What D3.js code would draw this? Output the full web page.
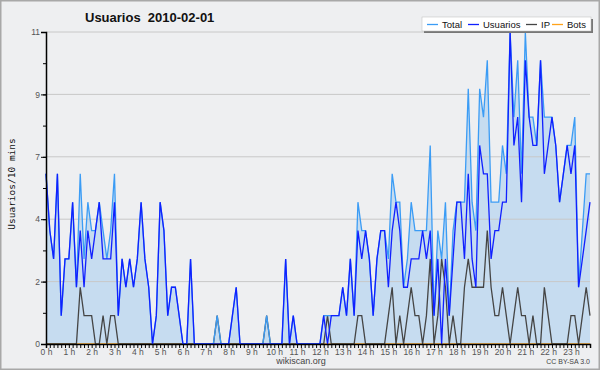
<!DOCTYPE html>
<html>
<head>
<meta charset="utf-8">
<script src="https://cdn.jsdelivr.net/npm/d3@7"></script>
<style>
  body { margin: 0; background: #eeeff1; }
  svg { display: block; }
</style>
</head>
<body>
<div id="chart"></div>
<script>
// one value per 10 minutes, 144 slots
var total = [
  6,4,3,6,1,3, 3,5,2,6,3,5, 4,4,5,4,3,4, 6,1,3,2,3,2,
  3,5,3,2,0,1, 5,4,1,2,2,1, 0,0,3,0,0,0, 0,0,0,1,0,0,
  0,1,2,0,0,0, 0,0,0,0,1,0, 0,0,0,3,0,1, 0,0,0,0,0,0,
  0,1,1,1,1,1, 2,1,3,1,5,4, 4,3,1,3,4,4, 3,6,5,5,2,3,
  5,4,4,4,4,7, 1,4,3,5,1,4, 5,5,5,9,5,4, 9,8,10,5,5,5,
  7,6,11,8,10,6, 11,8,8,7,10,8, 8,8,7,5,6,7, 7,8,2,4,6,6
];
var usuarios = [
  6,4,3,6,1,3, 3,5,2,4,2,4, 3,4,5,3,3,3, 5,1,3,2,3,2,
  3,5,3,2,0,1, 5,4,1,2,2,1, 0,0,3,0,0,0, 0,0,0,0,0,0,
  0,1,2,0,0,0, 0,0,0,0,0,0, 0,0,0,3,0,1, 0,0,0,0,0,0,
  0,1,0,1,1,1, 2,1,3,1,4,3, 4,3,1,3,4,4, 2,4,5,4,2,2,
  3,3,3,4,3,4, 1,3,0,3,1,3, 5,5,3,6,3,2, 7,6,6,3,4,4,
  5,5,11,7,8,5, 10,8,7,7,10,6, 7,8,7,5,6,7, 6,7,2,3,4,5
];
var ip = [
  0,0,0,0,0,0, 0,0,0,2,1,1, 1,0,0,1,0,1, 1,0,0,0,0,0,
  0,0,0,0,0,0, 0,0,0,0,0,0, 0,0,0,0,0,0, 0,0,0,1,0,0,
  0,0,0,0,0,0, 0,0,0,0,1,0, 0,0,0,0,0,0, 0,0,0,0,0,0,
  0,0,1,0,0,0, 0,0,0,0,1,1, 0,0,0,0,0,0, 1,2,0,1,0,1,
  2,1,1,0,1,3, 0,1,3,2,0,1, 0,0,2,3,2,2, 2,2,4,2,1,1,
  2,1,0,1,2,1, 1,0,1,0,0,2, 1,0,0,0,0,0, 1,1,0,1,2,1
];
var bots = [
  0,0,0,0,0,0, 0,0,0,0,0,0, 0,0,0,0,0,0, 0,0,0,0,0,0,
  0,0,0,0,0,0, 0,0,0,0,0,0, 0,0,0,0,0,0, 0,0,0,0,0,0,
  0,0,0,0,0,0, 0,0,0,0,0,0, 0,0,0,0,0,0, 0,0,0,0,0,0,
  0,0,0,0,0,0, 0,0,0,0,0,0, 0,0,0,0,0,0, 0,0,0,0,0,0,
  0,0,0,0,0,0, 0,0,0,0,0,0, 0,0,0,0,0,0, 0,0,0,0,0,0,
  0,0,0,0,0,0, 0,0,0,0,0,0, 0,0,0,0,0,0, 0,0,0,0,0,0
];
var hourLabels = ["0 h","1 h","2 h","3 h","4 h","5 h","6 h","7 h","8 h","9 h","10 h","11 h",
  "12 h","13 h","14 h","15 h","16 h","17 h","18 h","19 h","20 h","21 h","22 h","23 h"];
var yTickLabels = ["0","2","4","7","9","11"];
var yMax = 11;
var legendNames = ["Total","Usuarios","IP","Bots"];

const width = 600;
const height = 370;
const plotLeft = 46, plotRight = 590, plotTop = 32, plotBottom = 344;

const colors = { total: "#3b9cf5", usuarios: "#1020ff", ip: "#454545", bots: "#ffa31a" };
const sans = '"Liberation Sans", Arial, sans-serif';

const x = d3.scaleLinear().domain([0, total.length - 1]).range([plotLeft, plotRight]);
const y = d3.scaleLinear().domain([0, yMax]).range([plotBottom, plotTop]);

let svg = d3.select('#chart')
  .append('svg')
    .attr('width', width)
    .attr('height', height)
    .style('font-family', sans);

// frame
svg.append('rect')
  .attr('x', 0.5).attr('y', 0.5)
  .attr('width', width - 1).attr('height', height - 1)
  .attr('fill', '#eeeff1')
  .attr('stroke', '#a8a8a8')
  .attr('stroke-width', 2);

// title
svg.append('text')
  .attr('x', 85)
  .attr('y', 22)
  .attr('font-size', 13)
  .attr('font-weight', 'bold')
  .attr('fill', '#111')
  .attr('xml:space', 'preserve')
  .text('Usuarios  2010-02-01');

// area under total
svg.append('path')
  .datum(total)
  .attr('fill', '#c6dcf0')
  .attr('d', d3.area()
    .x((d, i) => x(i))
    .y0(y(0))
    .y1(d => y(d)));

// grid
const majorTicks = yTickLabels.map((t, i) => i * yMax / (yTickLabels.length - 1));
const minorTicks = d3.range(0, 11).map(i => i * yMax / 10);
svg.append('g')
  .selectAll('line')
  .data(majorTicks.slice(1))
  .enter()
  .append('line')
    .attr('x1', plotLeft).attr('x2', plotRight)
    .attr('y1', d => y(d)).attr('y2', d => y(d))
    .attr('stroke', '#c8c8c8')
    .attr('stroke-width', 1);

// series lines
function drawLine(data, color) {
  svg.append('path')
    .datum(data)
    .attr('fill', 'none')
    .attr('stroke', color)
    .attr('stroke-width', 1.3)
    .attr('d', d3.line()
      .x((d, i) => x(i))
      .y(d => y(d)));
}
drawLine(bots, colors.bots);
drawLine(ip, colors.ip);
drawLine(total, colors.total);
drawLine(usuarios, colors.usuarios);

// y axis
let yMinor = svg.append('g')
  .attr('transform', `translate(${plotLeft},0)`)
  .call(d3.axisLeft(y).tickValues(minorTicks).tickSize(3).tickFormat(''));
let yAxis = svg.append('g')
  .attr('transform', `translate(${plotLeft},0)`)
  .call(d3.axisLeft(y).tickValues(majorTicks).tickSize(5)
    .tickFormat((d, i) => yTickLabels[i]));
yAxis.selectAll('text').attr('font-family', sans).attr('font-size', 8.5).attr('fill', '#555').attr('x', -6).attr('dy', '0.32em');
yAxis.select('.domain').attr('stroke', '#000').attr('stroke-width', 1.5);
yMinor.select('.domain').remove();

// x axis
let xAxis = svg.append('g')
  .attr('transform', `translate(0,${plotBottom})`)
  .call(d3.axisBottom(x).tickValues(d3.range(total.length)).tickSize(4).tickPadding(1)
    .tickFormat(i => i % 6 === 0 ? hourLabels[i / 6] : ''));
xAxis.selectAll('text').attr('font-family', sans).attr('font-size', 8.5).attr('fill', '#555');
xAxis.select('.domain').attr('stroke', '#000').attr('stroke-width', 1.5);

// y label
svg.append('text')
  .attr('transform', 'rotate(-90)')
  .attr('x', -184)
  .attr('y', 15)
  .attr('text-anchor', 'middle')
  .attr('font-family', '"DejaVu Sans Mono", monospace')
  .attr('font-size', 9.5)
  .attr('fill', '#111')
  .text('Usuarios/10 mins');

// footer
svg.append('text')
  .attr('x', 301).attr('y', 364)
  .attr('text-anchor', 'middle')
  .attr('font-size', 9)
  .attr('fill', '#444')
  .text('wikiscan.org');
svg.append('text')
  .attr('x', 590).attr('y', 364)
  .attr('text-anchor', 'end')
  .attr('font-size', 7)
  .attr('fill', '#444')
  .text('CC BY-SA 3.0');

// legend
let legend = svg.append('g');
legend.append('rect')
  .attr('x', 424).attr('y', 19).attr('width', 169).attr('height', 14)
  .attr('fill', '#777');
legend.append('rect')
  .attr('x', 422).attr('y', 17).attr('width', 169).attr('height', 14)
  .attr('fill', '#fff')
  .attr('stroke', '#bbb')
  .attr('stroke-width', 0.5);
const legendColors = [colors.total, colors.usuarios, colors.ip, colors.bots];
const legendX = [427, 468, 526, 552];
legendNames.forEach((name, i) => {
  legend.append('line')
    .attr('x1', legendX[i]).attr('x2', legendX[i] + 11)
    .attr('y1', 24.5).attr('y2', 24.5)
    .attr('stroke', legendColors[i])
    .attr('stroke-width', 1.3);
  legend.append('text')
    .attr('x', legendX[i] + 15).attr('y', 28)
    .attr('font-size', 9.5)
    .attr('fill', '#111')
    .text(name);
});
</script>
</body>
</html>
